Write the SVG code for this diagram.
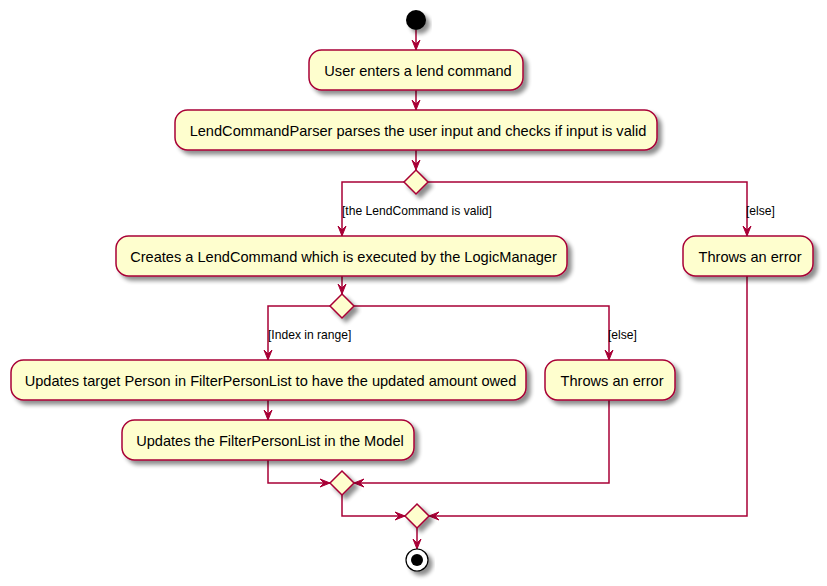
<svg xmlns="http://www.w3.org/2000/svg" width="827" height="586" viewBox="0 0 827 586">
<style>
.box{fill:#FEFECE;stroke:#A80036;stroke-width:1.5;filter:url(#sh)}
.dia{fill:#FEFECE;stroke:#A80036;stroke-width:1.5;filter:url(#sh)}
.ln{fill:none;stroke:#A80036;stroke-width:1.5}
.ah{fill:#A80036;stroke:#A80036;stroke-width:1}
.t{font-family:"Liberation Sans",Arial,sans-serif;font-size:14.6px;fill:#000;text-anchor:middle}
.lb{font-family:"Liberation Sans",Arial,sans-serif;font-size:12.1px;fill:#000}
</style>
<defs>
<filter id="sh" x="-20%" y="-20%" width="150%" height="160%">
<feGaussianBlur in="SourceAlpha" stdDeviation="2"/>
<feOffset dx="4" dy="4" result="o"/>
<feComponentTransfer><feFuncA type="linear" slope="0.45"/></feComponentTransfer>
<feMerge><feMergeNode/><feMergeNode in="SourceGraphic"/></feMerge>
</filter>
<path id="ad" d="M-4,-10 L0,0 L4,-10 L0,-6 Z"/>
</defs>
<rect width="827" height="586" fill="#fff"/>
<g id="connectors">
<path class="ln" d="M416,30 V50"/>
<use href="#ad" class="ah" x="416" y="50"/>
<path class="ln" d="M416,90 V110"/>
<use href="#ad" class="ah" x="416" y="110"/>
<path class="ln" d="M416,150 V170"/>
<use href="#ad" class="ah" x="416" y="170"/>
<path class="ln" d="M404,182 H342 V236"/>
<use href="#ad" class="ah" x="342" y="236"/>
<path class="ln" d="M428,182 H747 V236"/>
<use href="#ad" class="ah" x="747" y="236"/>
<path class="ln" d="M342,276 V294"/>
<use href="#ad" class="ah" x="342" y="294"/>
<path class="ln" d="M330,306 H268 V360"/>
<use href="#ad" class="ah" x="268" y="360"/>
<path class="ln" d="M354,306 H609 V360"/>
<use href="#ad" class="ah" x="609" y="360"/>
<path class="ln" d="M268,400 V420"/>
<use href="#ad" class="ah" x="268" y="420"/>
<path class="ln" d="M268,460 V483 H330"/>
<use href="#ad" class="ah" transform="translate(330,483) rotate(-90)"/>
<path class="ln" d="M609,400 V483 H354"/>
<use href="#ad" class="ah" transform="translate(354,483) rotate(90)"/>
<path class="ln" d="M342,495 V516 H405"/>
<use href="#ad" class="ah" transform="translate(405,516) rotate(-90)"/>
<path class="ln" d="M747,276 V516 H429"/>
<use href="#ad" class="ah" transform="translate(429,516) rotate(90)"/>
<path class="ln" d="M417,528 V549"/>
<use href="#ad" class="ah" x="417" y="549"/>
<text class="lb" x="342" y="215">[the LendCommand is valid]</text>
<text class="lb" x="746" y="215">[else]</text>
<text class="lb" x="268" y="339">[Index in range]</text>
<text class="lb" x="608" y="339">[else]</text>
</g>
<g id="start"><circle cx="416" cy="20" r="10" fill="#000" filter="url(#sh)"/></g>
<g id="n1"><rect class="box" x="309" y="50" width="214" height="40" rx="12.5"/><text class="t" x="418" y="76">User enters a lend command</text></g>
<g id="n2"><rect class="box" x="175" y="110" width="482" height="40" rx="12.5"/><text class="t" x="418" y="136">LendCommandParser parses the user input and checks if input is valid</text></g>
<g id="d1"><polygon class="dia" points="416,170 428,182 416,194 404,182"/></g>
<g id="n3"><rect class="box" x="116" y="236" width="451" height="40" rx="12.5"/><text class="t" x="343.5" y="262">Creates a LendCommand which is executed by the LogicManager</text></g>
<g id="e1"><rect class="box" x="683" y="236" width="130" height="40" rx="12.5"/><text class="t" x="750" y="262">Throws an error</text></g>
<g id="d2"><polygon class="dia" points="342,294 354,306 342,318 330,306"/></g>
<g id="n4"><rect class="box" x="11" y="360" width="515" height="40" rx="12.5"/><text class="t" x="270.5" y="386">Updates target Person in FilterPersonList to have the updated amount owed</text></g>
<g id="e2"><rect class="box" x="545" y="360" width="130" height="40" rx="12.5"/><text class="t" x="612" y="386">Throws an error</text></g>
<g id="n5"><rect class="box" x="122" y="420" width="292" height="40" rx="12.5"/><text class="t" x="270" y="446">Updates the FilterPersonList in the Model</text></g>
<g id="d3"><polygon class="dia" points="342,471 354,483 342,495 330,483"/></g>
<g id="d4"><polygon class="dia" points="417,504 429,516 417,528 405,516"/></g>
<g id="end"><circle cx="417" cy="560" r="11" fill="#fff" stroke="#000" stroke-width="1.2" filter="url(#sh)"/><circle cx="417" cy="560" r="6" fill="#000"/></g>
</svg>
